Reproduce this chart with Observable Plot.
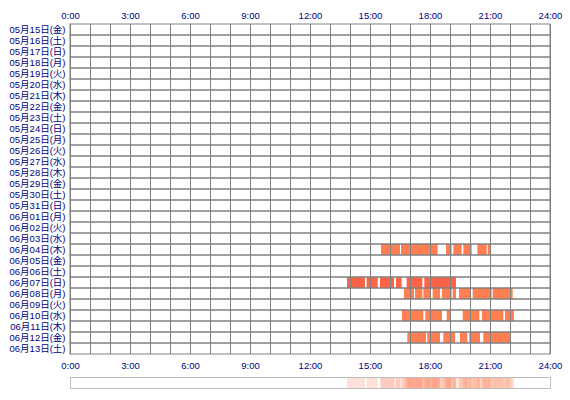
<!DOCTYPE html>
<html>
<head>
<meta charset="utf-8">
<script src="https://cdn.jsdelivr.net/npm/d3@7"></script>
<script src="https://cdn.jsdelivr.net/npm/@observablehq/plot@0.6"></script>
<style>
  html, body { margin: 0; padding: 0; background: #fff; }
  #chart svg { display: block; }
</style>
</head>
<body>
<div id="chart"></div>
<script>
const dates = ["05月15日(金)","05月16日(土)","05月17日(日)","05月18日(月)","05月19日(火)","05月20日(水)","05月21日(木)","05月22日(金)","05月23日(土)","05月24日(日)","05月25日(月)","05月26日(火)","05月27日(水)","05月28日(木)","05月29日(金)","05月30日(土)","05月31日(日)","06月01日(月)","06月02日(火)","06月03日(水)","06月04日(木)","06月05日(金)","06月06日(土)","06月07日(日)","06月08日(月)","06月09日(火)","06月10日(水)","06月11日(木)","06月12日(金)","06月13日(土)"];

const hourTicks = [0, 3, 6, 9, 12, 15, 18, 21, 24];
const gridHours = [0,1,2,3,4,5,6,7,8,9,10,11,12,13,14,15,16,17,18,19,20,21,22,23,24];

// activity sessions per day (start-end)
const jun04 = ["15:33-16:30","16:33-18:23","18:48-19:05","19:10-19:35","19:40-20:05","20:22-20:50","20:53-21:00"];
const jun07 = ["13:51-14:45","14:50-15:23","15:30-16:12","16:18-16:35","16:50-17:37","17:43-19:18"];
const jun08 = ["16:42-17:12","17:15-17:37","17:40-18:00","18:08-18:30","18:36-19:05","19:08-19:18","19:27-20:02","20:08-21:05","21:08-22:08"];
const jun10 = ["16:36-17:40","17:46-18:36","18:50-19:00","19:38-20:28","20:36-21:40","21:45-22:12"];
const jun12 = ["16:52-17:48","17:52-18:00","18:02-18:30","18:40-19:15","19:30-19:52","19:58-20:30","20:40-22:00"];

const activeDays = ["06月04日(木)","06月07日(日)","06月08日(月)","06月10日(水)","06月12日(金)"];
const activeLists = [jun04, jun07, jun08, jun10, jun12];

const toH = s => { const [a, b] = s.split(":"); return +a + (+b) / 60; };
const sessions = [];
activeDays.forEach((day, i) => {
  activeLists[i].forEach(r => {
    const [s, e] = r.split("-");
    sessions.push({day, start: toH(s), end: toH(e)});
  });
});
const fillOf = d => d.day === "06月07日(日)" ? "#ff6347" : "#ff7f50";

const FONT = "'Liberation Sans', 'Noto Sans CJK JP', sans-serif";
const NAVY = "#000080";
const GRID = "#808080";

const main = Plot.plot({
  width: 570,
  height: 372,
  marginTop: 24,
  marginBottom: 18,
  marginLeft: 70,
  marginRight: 20,
  style: {fontFamily: FONT, fontSize: "9.5px", background: "#fff"},
  x: {domain: [0, 24], axis: null},
  y: {type: "band", domain: dates, padding: 0, round: true, axis: null},
  marks: [
    Plot.barX(sessions, {x1: "start", x2: "end", y: "day", fill: fillOf}),
    Plot.barX(dates, {x1: 0, x2: 24, y: d => d, fill: "none", stroke: GRID, strokeWidth: 1}),
    Plot.ruleX(gridHours, {x: d => d, stroke: GRID, strokeWidth: 1}),
    Plot.text(dates, {y: d => d, text: d => d, frameAnchor: "left", dx: -5, textAnchor: "end", fill: NAVY}),
    Plot.text(hourTicks, {x: d => d, text: d => `${d}:00`, frameAnchor: "top", dy: -9, lineAnchor: "middle", fill: NAVY}),
    Plot.text(hourTicks, {x: d => d, text: d => `${d}:00`, frameAnchor: "bottom", dy: 11, lineAnchor: "middle", fill: NAVY})
  ]
});

const summary = Plot.plot({
  width: 570,
  height: 28,
  marginTop: 5,
  marginBottom: 12,
  marginLeft: 70,
  marginRight: 20,
  style: {fontFamily: FONT, fontSize: "9.5px", background: "#fff"},
  x: {domain: [0, 24], axis: null},
  y: {domain: [0, 1], axis: null},
  marks: [
    Plot.rect(sessions, {x1: "start", x2: "end", y1: 0, y2: 1, fill: fillOf, fillOpacity: 0.2}),
    Plot.frame({stroke: "#bdbdbd"})
  ]
});

const el = document.getElementById("chart");
el.appendChild(main);
el.appendChild(summary);
</script>
</body>
</html>
